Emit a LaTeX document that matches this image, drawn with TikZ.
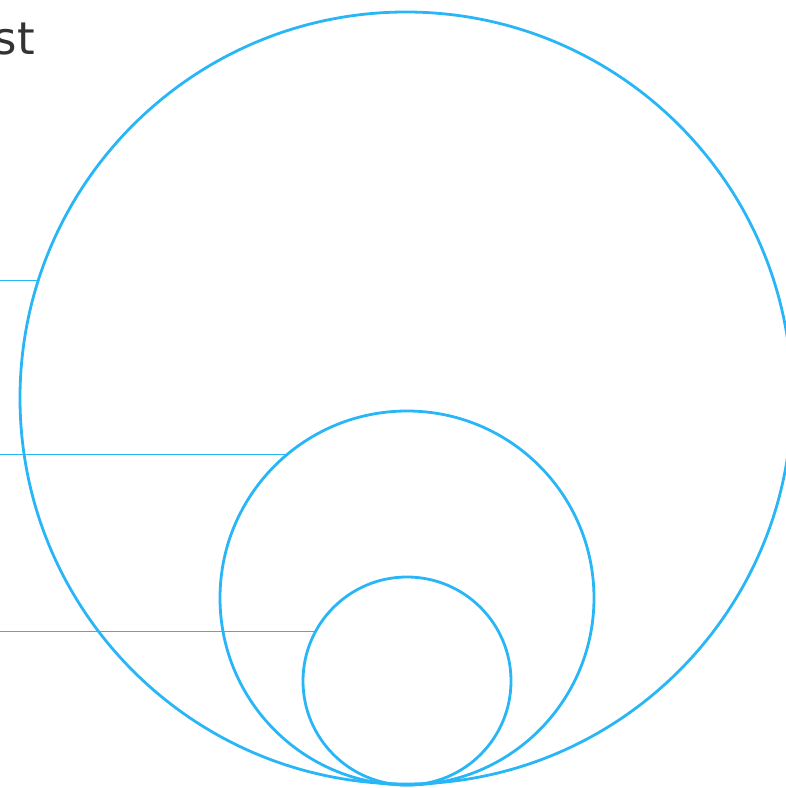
\documentclass[tikz,border=0pt]{standalone}
\usepackage{fontspec}
\usepackage{tikz}
\usetikzlibrary{calc}
\newfontfamily\labelfont{DejaVu Sans}
\definecolor{ringblue}{HTML}{29B6F6}
\definecolor{txtgray}{HTML}{333333}

\begin{document}
\begin{tikzpicture}[
  x=1pt, y=1pt,
  ring/.style={circle, draw=ringblue, line width=2.8pt, inner sep=0pt,
               outer sep=0pt},
  lead/.style={draw=ringblue, line width=0.9pt}
]
\useasboundingbox (0,0) rectangle (786,788);
\node[ring, minimum size=772pt] (outer) at (406,390) {};
\node[ring, minimum size=374pt] (middle) at (407,190) {};
\node[ring, minimum size=208pt] (inner) at (407,107) {};
\coordinate (lo) at (0,508);
\coordinate (lm) at (0,334);
\coordinate (li) at (0,157);
\draw[lead] (lo) -- (lo -| outer.162.16);
\draw[lead] (lm) -- (lm -| middle.129.6);
\draw[lead] (li) -- (li -| inner.151.2);
\node[anchor=base east, inner sep=0pt, text=txtgray,
      font=\labelfont\fontsize{45}{54}\selectfont] (title) at (35,733) {st};
\end{tikzpicture}
\end{document}
